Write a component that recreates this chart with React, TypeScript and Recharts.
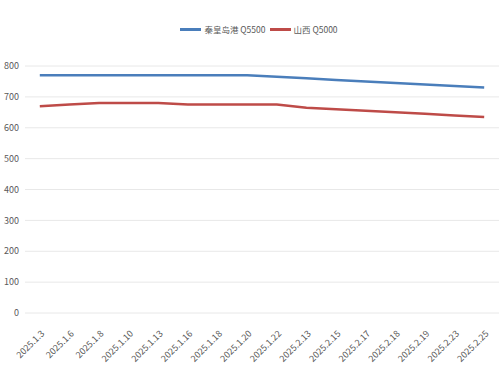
import React from 'react';
import { LineChart, Line, XAxis, YAxis, CartesianGrid, Legend } from 'recharts';

const categories = ['2025.1.3', '2025.1.6', '2025.1.8', '2025.1.10', '2025.1.13', '2025.1.16', '2025.1.18', '2025.1.20', '2025.1.22', '2025.2.13', '2025.2.15', '2025.2.17', '2025.2.18', '2025.2.19', '2025.2.23', '2025.2.25'];
const qinhuangdao = [770, 770, 770, 770, 770, 770, 770, 770, 765, 760, 755, 750, 745, 740, 735, 730];
const shanxi = [670, 675, 680, 680, 680, 675, 675, 675, 675, 665, 660, 655, 650, 645, 640, 635];
const yTicks = [0, 100, 200, 300, 400, 500, 600, 700, 800];
const seriesNames = ['秦皇岛港 Q5500', '山西 Q5000'];
const seriesColors = ['#4a7ebb', '#be4b48'];

const data = categories.map((c, i) => ({ date: c, a: qinhuangdao[i], b: shanxi[i] }));

const FONT = '"Noto Sans CJK SC", "Noto Sans", sans-serif';

const XTick = (props: any) => {
  const { x, y, payload } = props;
  return (
    <g transform={`translate(${x + 3},${y + 11})`}>
      <text x={0} y={0} dy={3} textAnchor="end" transform="rotate(-45)" fill="#595959" fontSize={9} fontFamily={FONT}>
        {payload.value}
      </text>
    </g>
  );
};

const LegendContent = () => (
  <div style={{ display: 'flex', justifyContent: 'center', alignItems: 'center', marginLeft: 22, height: 20 }}>
    {seriesNames.map((n, i) => (
      <div key={n} style={{ display: 'flex', alignItems: 'center', marginRight: 4 }}>
        <div style={{ width: 21, height: 3, background: seriesColors[i], marginRight: 3 }} />
        <span style={{ color: '#595959', fontSize: 8.5, fontFamily: FONT, whiteSpace: 'nowrap' }}>{n}</span>
      </div>
    ))}
  </div>
);

export default function App() {
  return (
    <div style={{ position: 'absolute', left: 0, top: 0, background: '#fff' }}>
      <LineChart width={500} height={369} data={data} margin={{ top: 46, right: 1, bottom: 0, left: 0 }}>
        <CartesianGrid vertical={false} stroke="#e8e8e8" />
        <XAxis
          dataKey="date"
          padding={{ left: 14.8, right: 14.8 }}
          axisLine={false}
          tickLine={false}
          interval={0}
          height={56}
          tick={<XTick />}
        />
        <YAxis
          domain={[0, 800]}
          ticks={yTicks}
          width={25}
          axisLine={false}
          tickLine={false}
          tickMargin={0}
          tick={{ fill: '#595959', fontSize: 9, fontFamily: FONT }}
        />
        <Legend
          verticalAlign="top"
          align="center"
          wrapperStyle={{ top: 19, height: 20, width: 500, left: 0 }}
          content={<LegendContent />}
        />
        <Line type="linear" dataKey="a" name={seriesNames[0]} stroke={seriesColors[0]} strokeWidth={2.5} dot={false} isAnimationActive={false} />
        <Line type="linear" dataKey="b" name={seriesNames[1]} stroke={seriesColors[1]} strokeWidth={2.5} dot={false} isAnimationActive={false} />
      </LineChart>
    </div>
  );
}
